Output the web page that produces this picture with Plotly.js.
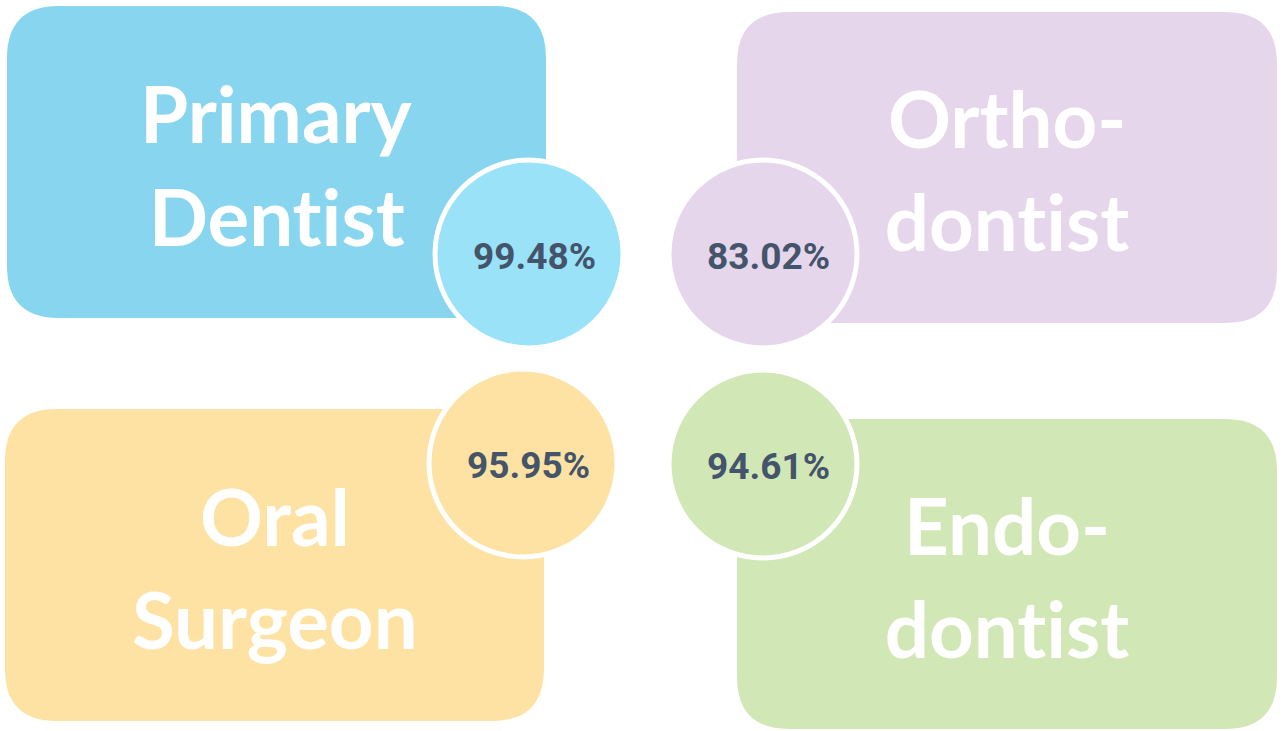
<!DOCTYPE html>
<html lang="en">
<head>
    <meta charset="UTF-8">
    <title>Specialist shares</title>
    <script src="https://cdn.plot.ly/plotly-3.0.1.min.js"></script>
    <style>
        html, body { margin: 0; padding: 0; background: #ffffff; }
        #graph text { font-variant-ligatures: none; font-feature-settings: "liga" 0, "clig" 0; }
    </style>
</head>
<body>
    <div id="graph" style="width:1286px;height:731px;"></div>
    <script>
        // data
        var categories = ['Primary<br>Dentist', 'Ortho-<br>dontist', 'Oral<br>Surgeon', 'Endo-<br>dontist'];
        var values = [99.48, 83.02, 95.95, 94.61];

        // layout of the four tiles (pixels, y down)
        var boxes = [
            {x0: 7, x1: 546, y0: 6, y1: 318},
            {x0: 737, x1: 1277, y0: 12, y1: 323},
            {x0: 5, x1: 544, y0: 409, y1: 721},
            {x0: 737, x1: 1277, y0: 419, y1: 729}
        ];
        var circleX = [529, 763, 523, 763];
        var circleY = [254, 254, 463, 464];
        var boxColors = ['#87d5ee', '#e6d6ec', '#fde2a3', '#d2e7b6'];
        var circleColors = ['#99e2f8', '#e6d6ec', '#fde2a3', '#d2e7b6'];
        var radius = 52;

        function roundRect(b, r) {
            return 'M' + (b.x0 + r) + ',' + b.y0 +
                ' L' + (b.x1 - r) + ',' + b.y0 +
                ' Q' + b.x1 + ',' + b.y0 + ' ' + b.x1 + ',' + (b.y0 + r) +
                ' L' + b.x1 + ',' + (b.y1 - r) +
                ' Q' + b.x1 + ',' + b.y1 + ' ' + (b.x1 - r) + ',' + b.y1 +
                ' L' + (b.x0 + r) + ',' + b.y1 +
                ' Q' + b.x0 + ',' + b.y1 + ' ' + b.x0 + ',' + (b.y1 - r) +
                ' L' + b.x0 + ',' + (b.y0 + r) +
                ' Q' + b.x0 + ',' + b.y0 + ' ' + (b.x0 + r) + ',' + b.y0 + ' Z';
        }

        var shapes = [];
        var annotations = [];
        boxes.forEach(function(b, i) {
            shapes.push({
                type: 'path',
                path: roundRect(b, radius),
                xref: 'x', yref: 'y',
                fillcolor: boxColors[i],
                line: {width: 0},
                layer: 'below'
            });
            var lines = categories[i].split('<br>');
            var cx = (b.x0 + b.x1) / 2;
            var cy = (b.y0 + b.y1) / 2 + 2;
            lines.forEach(function(txt, k) {
                annotations.push({
                    x: cx,
                    y: cy + (k - (lines.length - 1) / 2) * 103,
                    xref: 'x', yref: 'y',
                    text: txt,
                    showarrow: false,
                    xanchor: 'center', yanchor: 'middle',
                    font: {family: 'Lato', size: 78, weight: 700, color: '#ffffff'}
                });
            });
        });

        // percentage labels, nudged a little right like the original
        values.forEach(function(v, i) {
            annotations.push({
                x: circleX[i],
                y: circleY[i],
                xref: 'x', yref: 'y',
                text: v.toFixed(2) + '%',
                showarrow: false,
                xanchor: 'center', yanchor: 'middle',
                xshift: 5, yshift: -2,
                font: {family: 'Roboto, sans-serif', size: 37, weight: 700, color: '#44546a'}
            });
        });

        var trace = {
            x: circleX,
            y: circleY,
            mode: 'markers',
            type: 'scatter',
            marker: {
                size: 188,
                color: circleColors,
                line: {color: '#ffffff', width: 5}
            },
            hoverinfo: 'none',
            cliponaxis: false
        };

        var layout = {
            width: 1286,
            height: 731,
            margin: {l: 0, r: 0, t: 0, b: 0},
            paper_bgcolor: '#ffffff',
            plot_bgcolor: '#ffffff',
            showlegend: false,
            xaxis: {range: [0, 1286], visible: false, fixedrange: true},
            yaxis: {range: [731, 0], visible: false, fixedrange: true},
            shapes: shapes,
            annotations: annotations
        };

        Plotly.newPlot('graph', [trace], layout, {displayModeBar: false, staticPlot: true});
    </script>
</body>
</html>
